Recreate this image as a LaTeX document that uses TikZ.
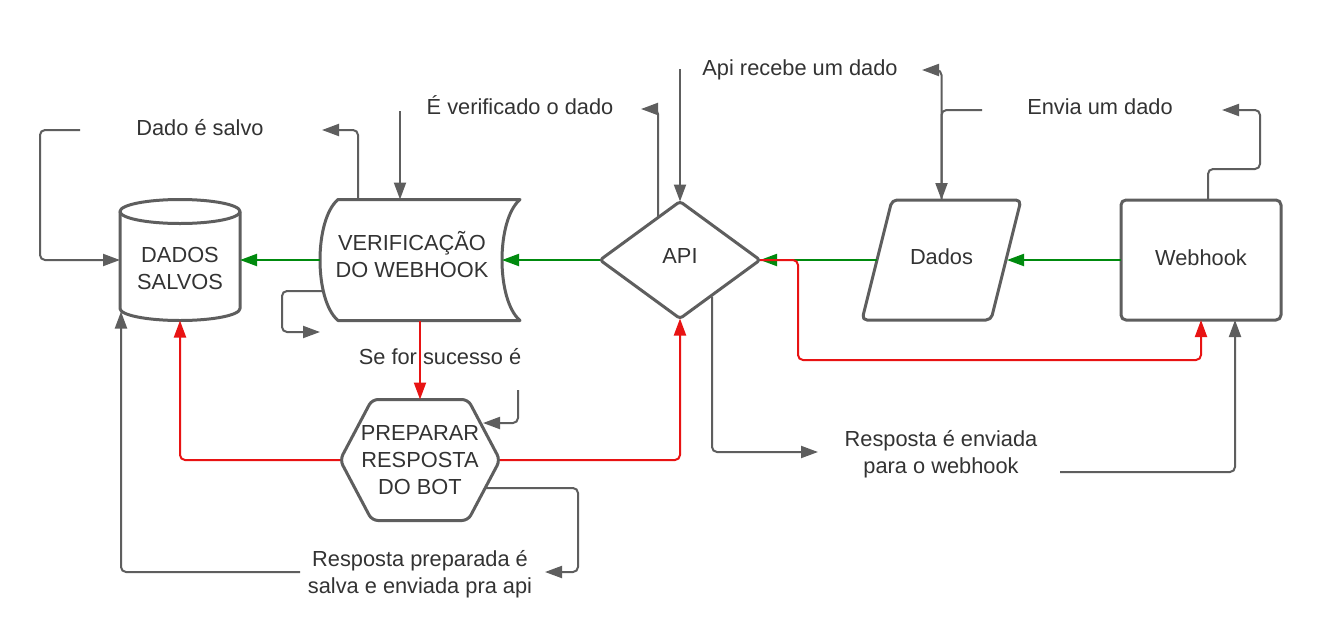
\documentclass[tikz,border=0pt]{standalone}
\usepackage{fontspec}
\setmainfont{Liberation Sans}
\usetikzlibrary{arrows.meta,shapes.geometric}
\definecolor{lgray}{HTML}{5E5E5E}
\definecolor{lgreen}{HTML}{008A0E}
\definecolor{lred}{HTML}{E81313}
\definecolor{ltext}{HTML}{333333}
\tikzset{
  txt/.style={text=ltext, font=\fontsize{21.8}{27}\selectfont, align=center, inner sep=0pt},
  outline/.style={draw=lgray, line width=3pt, line join=round},
  holder/.style={inner sep=0pt, outer sep=0pt},
  tipx/.style={-{Triangle[length=17pt,width=12pt]}},
  gc/.style={draw=lgray, line width=2pt, rounded corners=5pt, tipx},
  grn/.style={draw=lgreen, line width=2pt, tipx},
  rd/.style={draw=lred, line width=2pt, rounded corners=5pt, tipx}
}
\begin{document}
\begin{tikzpicture}[x=1pt,y=-1pt]
\useasboundingbox[fill=white] (0,0) rectangle (1320,643);

% ---------- shapes ----------
\node[holder, minimum width=120pt, minimum height=121pt,
      label={[txt,yshift=-8.5pt]center:{DADOS\\SALVOS}}] (db) at (180,260) {};
\draw[outline] (120,211.5) -- (120,308.5) arc[start angle=180,end angle=0,x radius=60,y radius=12] -- (240,211.5);
\draw[outline] (180,211.5) ellipse[x radius=60, y radius=12];

\node[holder, minimum width=200pt, minimum height=121pt,
      label={[txt,xshift=-8pt,yshift=5.5pt]center:{VERIFICAÇÃO\\DO WEBHOOK}}] (ver) at (420,260) {};
\draw[outline] (338,199.5) -- (520,199.5) .. controls (496,220) and (496,300) .. (520,320.5)
  -- (338,320.5) .. controls (314,300) and (314,220) .. cycle;

\node[diamond, outline, rounded corners=3pt, inner sep=0pt, outer sep=0pt,
      minimum width=160pt, minimum height=117pt,
      label={[txt,yshift=4pt]center:API}] (api) at (680,260) {};

\node[holder, minimum width=159pt, minimum height=120pt,
      label={[txt,yshift=3.5pt]center:Dados}] (dados) at (941.5,260) {};
\draw[outline, rounded corners=5pt] (892,200) -- (1021,200) -- (991,320) -- (862,320) -- cycle;

\node[outline, rounded corners=5pt, outer sep=0pt, minimum width=160pt, minimum height=120pt,
      label={[txt,yshift=2pt]center:Webhook}] (wh) at (1201,260) {};

\node[holder, minimum width=160pt, minimum height=121pt,
      label={[txt]center:{PREPARAR\\RESPOSTA\\DO BOT}}] (prep) at (420,460) {};
\draw[outline, rounded corners=6pt] (372,399.5) -- (468,399.5) -- (500,460) -- (468,520.5)
  -- (372,520.5) -- (340,460) -- cycle;

% ---------- free labels ----------
\node[txt] (t1) at (200,127.5) {Dado é salvo};
\node[txt] (t2) at (520,105.5) {É verificado o dado};
\node[txt] (t3) at (800,70) {Api recebe um dado};
\node[txt] (t4) at (1100,107) {Envia um dado};
\node[txt] (t5) at (440,357) {Se for sucesso é};
\node[txt] (t6) at (941,454) {Resposta é enviada\\para o webhook};
\node[txt] (t7) at (420,574.5) {Resposta preparada é\\salva e enviada pra api};

% ---------- label attachment points ----------
\coordinate (c1a) at (80,130);
\coordinate (c1b) at (322,130);
\coordinate (c2a) at (400,111);
\coordinate (c2b) at (641,109);
\coordinate (c3a) at (680,69);
\coordinate (c3b) at (922,70);
\coordinate (c4a) at (982,110);
\coordinate (c4b) at (1222,110);
\coordinate (c5a) at (320,332);
\coordinate (c5b) at (518,390);
\coordinate (c6a) at (300,572);
\coordinate (c6b) at (545,572);
\coordinate (c7a) at (818,452);
\coordinate (c7b) at (1060,472);

% ---------- green flow ----------
\draw[grn] (wh.west) -- ([xshift=-14pt]dados.east);
\draw[grn] ([xshift=15pt]dados.west) -- (api.east);
\draw[grn] (api.west) -- ([xshift=-18pt]ver.east);
\draw[grn] (ver.west) -- (db.east);

% ---------- red flow ----------
\draw[rd] (ver.south) -- (prep.north);
\draw[rd] (prep.west) -| (db.south);
\draw[rd] (prep.east) -| (api.south);
\draw[rd] (api.east) -- (798,260) |- ([yshift=-40pt]wh.south) -- (wh.south);

% ---------- gray annotations ----------
\draw[gc] (c1a) -- (40,130) |- (db.west);
\draw[gc] ([xshift=-62pt]ver.north) |- (c1b);
\draw[gc] (c2a) -- ([xshift=-20pt]ver.north);
\draw[gc] ([shift={(-22pt,-16pt)}]api.north) |- (c2b);
\draw[gc] (c3a) -- (api.north);
\draw[gc] (dados.north) |- (c3b);
\draw[gc] (c4a) -| (dados.north);
\draw[gc] ([xshift=7pt]wh.north) -- ++(0,-31) -| (1260,110) -- (c4b);
\draw[gc] ([shift={(3pt,-31pt)}]ver.west) -- (282,291) |- (c5a);
\draw[gc] (c5b) |- ([shift={(-17pt,37pt)}]prep.east);
\draw[gc] ([shift={(-14pt,-28pt)}]prep.east) -| (578,572) -- (c6b);
\draw[gc] (c6a) -| ([shift={(1pt,9pt)}]db.south west);
\draw[gc] ([shift={(32pt,22pt)}]api.south) |- (c7a);
\draw[gc] (c7b) -| ([xshift=34pt]wh.south);
\end{tikzpicture}
\end{document}
